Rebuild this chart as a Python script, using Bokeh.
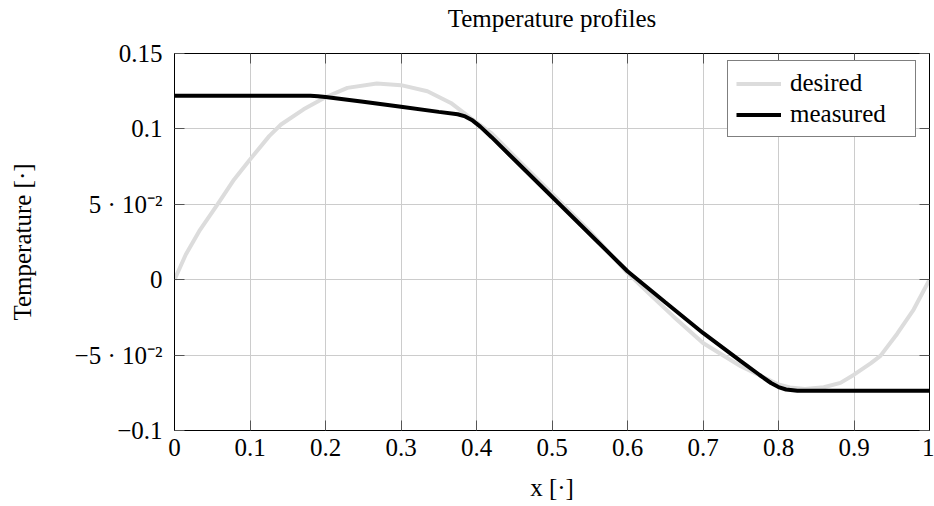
from bokeh.plotting import figure
from bokeh.models import (LinearAxis, Range1d, FixedTicker, Legend, LegendItem,
                          CustomLabelingPolicy)
from bokeh.embed import file_html
from bokeh.resources import INLINE

# ---- data ----
x_desired = [0.0, 0.015, 0.0327, 0.057, 0.079, 0.1, 0.1254, 0.1411, 0.171, 0.2, 0.229,
             0.268, 0.3, 0.335, 0.366, 0.392, 0.42, 0.45, 0.5, 0.55, 0.6, 0.63, 0.66,
             0.7, 0.75, 0.8, 0.815, 0.835, 0.86, 0.882, 0.9, 0.922, 0.935, 0.957,
             0.979, 1.0]
y_desired = [0.0, 0.0167, 0.0322, 0.05, 0.0665, 0.0797, 0.0952, 0.1029, 0.113, 0.121,
             0.1272, 0.1301, 0.129, 0.125, 0.1172, 0.1073, 0.097, 0.082, 0.057, 0.032,
             0.0045, -0.0098, -0.024, -0.042, -0.0574, -0.0695, -0.0715, -0.0725,
             -0.0713, -0.0684, -0.063, -0.0555, -0.0505, -0.036, -0.0198, 0.0]

x_measured = [0.0, 0.18, 0.19, 0.2, 0.25, 0.3, 0.35, 0.375, 0.385, 0.395, 0.405,
              0.42, 0.45, 0.5, 0.55, 0.6, 0.65, 0.7, 0.75, 0.775, 0.79, 0.8, 0.81,
              0.825, 1.0]
y_measured = [0.122, 0.122, 0.1217, 0.1211, 0.118, 0.1147, 0.1113, 0.1097, 0.1083,
              0.1055, 0.1015, 0.0945, 0.0797, 0.055, 0.0303, 0.0056, -0.015, -0.0353,
              -0.054, -0.0632, -0.0685, -0.0712, -0.0728, -0.0736, -0.0736]

x_ticks = [0.0, 0.1, 0.2, 0.3, 0.4, 0.5, 0.6, 0.7, 0.8, 0.9, 1.0]
x_tick_labels = ["0", "0.1", "0.2", "0.3", "0.4", "0.5", "0.6", "0.7", "0.8", "0.9", "1"]
y_ticks = [-0.1, -0.05, 0.0, 0.05, 0.1, 0.15]
y_tick_labels = ["\u22120.1", "\u22125 \u00b7 10\u207b\u00b2", "0",
                 "5 \u00b7 10\u207b\u00b2", "0.1", "0.15"]

title_text = "Temperature profiles"
series_names = ["desired", "measured"]
series_colors = ["#dcdcdc", "#000000"]

FONT = "'Liberation Serif', serif"
FS = "25px"

p = figure(width=934, height=506,
           x_range=Range1d(0, 1), y_range=Range1d(-0.1, 0.15),
           output_backend="svg", toolbar_location=None,
           min_border_left=174, min_border_right=5,
           min_border_top=53, min_border_bottom=76,
           x_axis_label="x [\u00b7]", y_axis_label="Temperature [\u00b7]")

p.background_fill_color = "white"
p.border_fill_color = "white"
p.outline_line_color = "black"
p.outline_line_width = 1
p.title.visible = False

p.xaxis.ticker = FixedTicker(ticks=x_ticks)
p.yaxis.ticker = FixedTicker(ticks=y_ticks)
p.xgrid.ticker = FixedTicker(ticks=x_ticks)
p.ygrid.ticker = FixedTicker(ticks=y_ticks)
p.xaxis.major_label_overrides = dict(zip(x_ticks, x_tick_labels))
p.yaxis.major_label_overrides = dict(zip(y_ticks, y_tick_labels))

p.grid.grid_line_color = "#cccccc"
p.grid.grid_line_width = 1

for ax in p.xaxis + p.yaxis:
    ax.major_tick_in = 10
    ax.major_tick_out = 0
    ax.minor_tick_in = 0
    ax.minor_tick_out = 0
    ax.major_tick_line_color = "#555555"
    ax.axis_line_color = "black"
    ax.major_label_text_font = FONT
    ax.major_label_text_font_size = FS
    ax.major_label_text_color = "black"
    ax.axis_label_text_font = FONT
    ax.axis_label_text_font_size = FS
    ax.axis_label_text_font_style = "normal"
    ax.axis_label_text_color = "black"

p.xaxis.major_label_standoff = 8
p.xaxis.axis_label_standoff = 15
p.yaxis.major_label_standoff = 12
p.yaxis.axis_label_standoff = 36

no_labels = CustomLabelingPolicy(code="""
try {
  const ids = Array.from(indices);
  for (const i of ids) { indices.unset(i); }
} catch (e) {}
return indices;
""")

right_axis = LinearAxis(ticker=FixedTicker(ticks=y_ticks), major_label_text_font_size="0px",
                        major_tick_in=10, major_tick_out=0, minor_tick_in=0, minor_tick_out=0,
                        major_label_standoff=0, major_tick_line_color="#555555",
                        axis_line_color="black", major_label_policy=no_labels)
# top axis: inward ticks, no tick labels, carries the chart title as its axis label
top_axis = LinearAxis(ticker=FixedTicker(ticks=x_ticks), major_label_text_font_size="0px",
                      major_tick_in=10, major_tick_out=0, minor_tick_in=0, minor_tick_out=0,
                      major_label_standoff=0, major_tick_line_color="#555555",
                      axis_line_color="black", major_label_policy=no_labels,
                      axis_label=title_text, axis_label_standoff=22,
                      axis_label_text_font=FONT, axis_label_text_font_size=FS,
                      axis_label_text_font_style="normal", axis_label_text_color="black")
p.add_layout(right_axis, "right")
p.add_layout(top_axis, "above")

r1 = p.line(x_desired, y_desired, line_color=series_colors[0], line_width=4)
r2 = p.line(x_measured, y_measured, line_color=series_colors[1], line_width=4)

legend = Legend(items=[LegendItem(label=series_names[0], renderers=[r1]),
                       LegendItem(label=series_names[1], renderers=[r2])],
                location=(553, 293))
legend.margin = 0
legend.padding = 8
legend.spacing = 3
legend.glyph_width = 45
legend.glyph_height = 27
legend.label_height = 27
legend.label_width = 117
legend.label_standoff = 9
legend.label_text_font = FONT
legend.label_text_font_size = FS
legend.label_text_color = "black"
legend.border_line_color = "black"
legend.border_line_width = 1
legend.background_fill_alpha = 1
p.add_layout(legend, "center")

open("out.html", "w").write(file_html(p, INLINE))
